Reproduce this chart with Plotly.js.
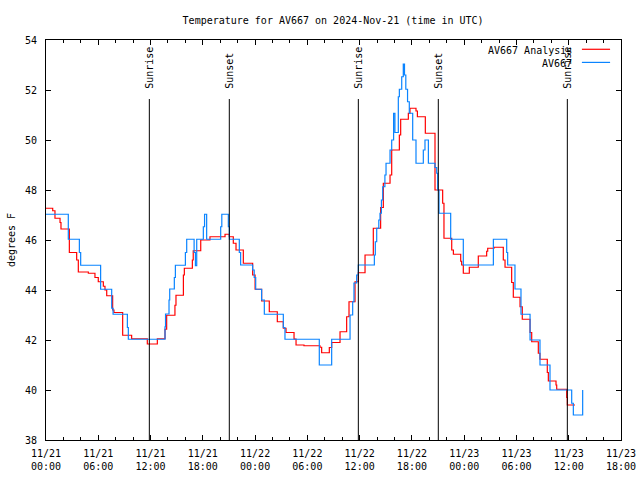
<!DOCTYPE html>
<html>
<head>
<meta charset="utf-8">
<script src="https://cdn.plot.ly/plotly-3.0.1.min.js"></script>
<style>html,body{margin:0;padding:0;background:#fff;}#chart{width:640px;height:480px;}</style>
</head>
<body>
<div id="chart"></div>
<script>
// Hours since 2024-11-21 00:00 UTC
const redHours = [0.0, 0.77, 1.03, 1.61, 1.72, 2.68, 3.52, 3.71, 4.86, 5.62, 6.0, 6.58, 6.77, 6.97, 7.65, 7.8, 8.8, 9.83, 11.63, 12.78, 13.66, 13.85, 14.8, 14.92, 15.77, 15.88, 16.8, 16.9, 17.76, 18.82, 20.55, 21.04, 21.5, 21.81, 22.65, 23.72, 24.0, 24.75, 25.63, 26.55, 27.24, 27.55, 28.47, 28.7, 29.61, 31.45, 31.64, 32.52, 32.79, 33.75, 34.51, 34.78, 35.47, 35.85, 36.62, 37.57, 38.41, 38.72, 39.49, 39.68, 40.56, 40.71, 41.59, 41.78, 42.47, 42.63, 43.54, 44.65, 45.53, 45.68, 46.57, 46.76, 47.6, 47.71, 47.9, 48.59, 49.62, 50.58, 50.7, 51.42, 52.49, 52.69, 53.45, 53.64, 54.41, 54.67, 55.56, 55.75, 56.51, 56.7, 57.54, 57.66, 58.54, 58.62, 59.77, 59.84, 60.72];
const redTemps = [47.27, 47.17, 46.87, 46.7, 46.44, 45.5, 45.2, 44.72, 44.67, 44.5, 44.33, 44.15, 44.0, 43.77, 43.2, 43.1, 42.19, 42.05, 41.84, 42.05, 42.43, 42.99, 43.39, 43.79, 44.6, 44.87, 45.2, 45.57, 46.0, 46.13, 46.23, 46.13, 45.87, 45.6, 45.07, 44.6, 44.03, 43.56, 43.13, 42.73, 42.47, 42.3, 42.04, 41.8, 41.77, 41.71, 41.49, 41.7, 41.9, 42.33, 42.93, 43.53, 44.33, 44.69, 45.4, 46.47, 47.3, 48.27, 48.6, 49.6, 50.2, 50.83, 51.07, 51.27, 51.16, 50.93, 50.27, 48.0, 47.47, 46.07, 45.6, 45.43, 45.15, 45.0, 44.67, 44.91, 45.36, 45.55, 45.67, 45.71, 45.2, 44.91, 44.3, 43.71, 43.33, 42.83, 42.3, 41.93, 41.47, 41.23, 40.7, 40.36, 40.2, 40.03, 39.7, 39.4, 39.4];

const blueHours = [0.0, 2.56, 3.83, 3.98, 6.27, 7.54, 7.7, 9.34, 9.45, 13.66, 13.72, 14.12, 14.2, 14.73, 14.85, 16.0, 16.15, 17.0, 17.15, 17.3, 18.06, 18.2, 18.44, 20.05, 20.18, 20.93, 21.05, 22.19, 22.34, 23.72, 23.9, 24.07, 24.75, 25.06, 27.24, 27.43, 31.37, 32.79, 34.9, 35.2, 35.35, 35.66, 35.85, 37.69, 37.8, 37.96, 38.2, 38.34, 38.5, 38.65, 38.9, 39.03, 39.49, 39.68, 39.9, 40.05, 40.44, 40.56, 40.83, 41.01, 41.15, 41.3, 41.5, 41.7, 42.09, 42.47, 43.31, 43.5, 43.89, 44.65, 44.85, 44.96, 45.11, 46.45, 47.9, 51.35, 52.88, 52.99, 53.83, 54.52, 55.56, 56.7, 57.85, 60.34, 60.53, 61.6];
const blueTemps = [47.03, 46.03, 45.5, 44.99, 44.03, 43.27, 43.03, 42.5, 42.03, 42.53, 43.04, 43.6, 44.04, 44.5, 44.99, 45.5, 46.03, 45.5, 44.97, 46.03, 46.53, 47.03, 46.03, 46.53, 47.03, 46.53, 46.03, 45.5, 45.0, 44.8, 44.5, 44.03, 43.6, 43.03, 42.5, 42.03, 41.0, 42.03, 43.0, 43.53, 44.28, 44.6, 45.0, 45.4, 45.93, 46.47, 46.8, 47.07, 47.6, 48.13, 48.6, 49.07, 49.6, 50.0, 51.07, 50.3, 51.73, 52.03, 52.53, 53.04, 52.6, 52.03, 51.53, 51.07, 50.0, 49.07, 49.6, 50.0, 49.07, 48.9, 48.67, 48.0, 47.07, 46.03, 45.0, 46.03, 45.5, 45.0, 44.04, 43.03, 42.0, 41.0, 40.0, 39.47, 39.0, 40.0];

const eventHours = [11.86, 21.04, 35.85, 45.03, 59.84];
const eventLabels = ['Sunrise', 'Sunset', 'Sunrise', 'Sunset', 'Sunrise'];

const seriesNames = ['AV667 Analysis', 'AV667'];
const yTickVals = [38, 40, 42, 44, 46, 48, 50, 52, 54];

const BASE = Date.UTC(2024, 10, 21);
function toDate(h) {
  const d = new Date(BASE + Math.round(h * 3600000));
  return d.toISOString().slice(0, 19).replace('T', ' ');
}

const FONT = {family: 'DejaVu Sans Mono, monospace', size: 10, color: '#000'};
const RED = '#ff0000';
const BLUE = '#0a84ff';

const traces = [
  {x: redHours.map(toDate), y: redTemps, name: seriesNames[0], type: 'scatter', mode: 'lines',
   line: {color: RED, width: 1.2, shape: 'hv'}, showlegend: false},
  {x: blueHours.map(toDate), y: blueTemps, name: seriesNames[1], type: 'scatter', mode: 'lines',
   line: {color: BLUE, width: 1.2, shape: 'hv'}, showlegend: false}
];

const shapes = eventHours.map(h => ({
  type: 'line', xref: 'x', yref: 'y', x0: toDate(h), x1: toDate(h), y0: 38, y1: 51.64,
  line: {color: '#000', width: 1}
}));
// legend samples
shapes.push({type: 'line', xref: 'paper', yref: 'paper', x0: 0.932, x1: 0.981, y0: 0.9768, y1: 0.9768, line: {color: RED, width: 1.2}});
shapes.push({type: 'line', xref: 'paper', yref: 'paper', x0: 0.932, x1: 0.981, y0: 0.944, y1: 0.944, line: {color: BLUE, width: 1.2}});

const annotations = eventHours.map((h, i) => ({
  x: toDate(h), y: 52.02, xref: 'x', yref: 'y', text: eventLabels[i], showarrow: false,
  textangle: -90, xanchor: 'center', yanchor: 'bottom', font: FONT, borderpad: 0
}));
annotations.push({x: 0.9165, y: 0.974, xref: 'paper', yref: 'paper', text: seriesNames[0], showarrow: false, xanchor: 'right', yanchor: 'middle', font: FONT, borderpad: 0});
annotations.push({x: 0.9165, y: 0.9425, xref: 'paper', yref: 'paper', text: seriesNames[1], showarrow: false, xanchor: 'right', yanchor: 'middle', font: FONT, borderpad: 0});

const layout = {
  width: 640, height: 480,
  margin: {l: 46, r: 19, t: 40, b: 40, pad: 0},
  paper_bgcolor: '#fff', plot_bgcolor: '#fff',
  font: FONT,
  showlegend: false,
  title: {text: 'Temperature for AV667 on 2024-Nov-21 (time in UTC)', font: FONT, x: 0.5205, xanchor: 'center', y: 0.958, yanchor: 'middle'},
  xaxis: {
    type: 'date', range: [toDate(0), toDate(66)],
    tick0: toDate(0), dtick: 6 * 3600000, tickformat: '%m/%d<br>%H:%M',
    ticks: 'inside', ticklen: 5, tickcolor: '#000', tickwidth: 1,
    minor: {dtick: 2 * 3600000, tick0: toDate(0), ticks: 'inside', ticklen: 3, tickcolor: '#000', showgrid: false},
    showline: true, linecolor: '#000', linewidth: 1, mirror: 'ticks',
    showgrid: false, zeroline: false, tickfont: FONT, ticklabelstandoff: 4
  },
  yaxis: {
    range: [38, 54], tickvals: yTickVals, ticktext: yTickVals.map(String),
    ticks: 'inside', ticklen: 5, tickcolor: '#000', tickwidth: 1,
    showline: true, linecolor: '#000', linewidth: 1, mirror: 'ticks',
    showgrid: false, zeroline: false, tickfont: FONT, ticklabelstandoff: 6,
    title: {text: 'degrees F', font: FONT, standoff: 7}
  },
  shapes: shapes,
  annotations: annotations
};

Plotly.newPlot('chart', traces, layout, {staticPlot: true, displayModeBar: false});
</script>
</body>
</html>
